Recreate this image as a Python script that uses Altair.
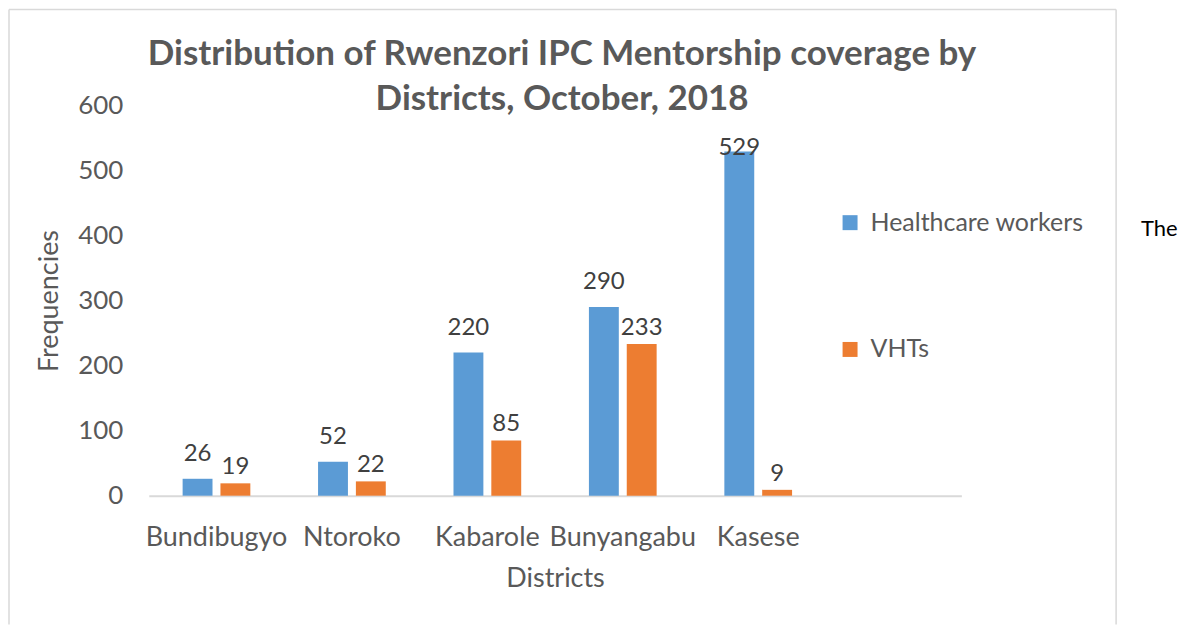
import altair as alt
import pandas as pd

categories = ["Bundibugyo", "Ntoroko", "Kabarole", "Bunyangabu", "Kasese"]
x_domain = categories + [" "]
healthcare_workers = [26, 52, 220, 290, 529]
vhts = [19, 22, 85, 233, 9]
series = ["Healthcare workers", "VHTs"]
colors = ["#5B9BD5", "#ED7D31"]
y_ticks = [0, 100, 200, 300, 400, 500, 600]

rows = []
for c, h, v in zip(categories, healthcare_workers, vhts):
    rows.append({"District": c, "Series": series[0], "Value": h})
    rows.append({"District": c, "Series": series[1], "Value": v})
df = pd.DataFrame(rows)

FONT = "Lato"
GREY = "#595959"

x_enc = alt.X("District:N", scale=alt.Scale(domain=x_domain, paddingInner=0.5, paddingOuter=0.25),
              axis=alt.Axis(title="Districts", labelAngle=0, tickSize=0, domainColor="#D9D9D9",
                            domainWidth=2, labelPadding=29, titlePadding=15,
                            labelFontSize=27, titleFontSize=27, labelColor=GREY, titleColor=GREY,
                            labelFont=FONT, titleFont=FONT, titleFontWeight="normal"))
y_enc = alt.Y("Value:Q", scale=alt.Scale(domain=[0, 600], nice=False),
              axis=alt.Axis(title="Frequencies", values=y_ticks, grid=False, domain=False, tickSize=0,
                            labelPadding=26, titlePadding=14, labelFontSize=26, titleFontSize=27,
                            labelColor=GREY, titleColor=GREY, labelFont=FONT, titleFont=FONT,
                            titleFontWeight="normal"))
xoff = alt.XOffset("Series:N", sort=series, scale=alt.Scale(domain=series, paddingInner=0.21))

base = alt.Chart(df)

bars = base.mark_bar().encode(
    x=x_enc, y=y_enc, xOffset=xoff,
    color=alt.Color("Series:N", scale=alt.Scale(domain=series, range=colors),
                    legend=alt.Legend(title=None, orient="none", legendX=690, legendY=105,
                                      symbolType="square", symbolSize=225, symbolStrokeWidth=0,
                                      labelFontSize=25, labelFont=FONT, labelColor=GREY,
                                      labelOffset=8, rowPadding=101, padding=0, labelLimit=0)),
)

# data labels: kept inside the plot area like the spreadsheet does
labels_base = base.transform_calculate(LabelY="min(datum.Value, 496)")

lab_hw = labels_base.transform_filter(alt.datum.Series == series[0]).mark_text(
    fontSize=24, font=FONT, color="#404040", baseline="middle", dy=-25
).encode(x=alt.X("District:N", scale=alt.Scale(domain=x_domain)),
         y=alt.Y("LabelY:Q"), xOffset=xoff, text="Value:Q")

lab_v = labels_base.transform_filter(alt.datum.Series == series[1]).mark_text(
    fontSize=24, font=FONT, color="#404040", baseline="middle", dy=-16
).encode(x=alt.X("District:N", scale=alt.Scale(domain=x_domain)),
         y=alt.Y("LabelY:Q"), xOffset=xoff, text="Value:Q")

one = alt.Data(values=[{"a": 1}])
bcol = "#D9D9D9"
left = alt.Chart(one).mark_rule(color=bcol, strokeWidth=1.5).encode(
    x=alt.value(-140), y=alt.value(-96), y2=alt.value(520))
right = alt.Chart(one).mark_rule(color=bcol, strokeWidth=1.5).encode(
    x=alt.value(969), y=alt.value(-96), y2=alt.value(520))
top = alt.Chart(one).mark_rule(color=bcol, strokeWidth=1.5).encode(
    x=alt.value(-140), x2=alt.value(969), y=alt.value(-96))
the_text = alt.Chart(one).mark_text(fontSize=22, font=FONT, color="#000000", align="left",
                                    baseline="middle").encode(
    x=alt.value(994), y=alt.value(124), text=alt.value("The"))

chart = alt.layer(left, right, top, bars, lab_hw, lab_v, the_text).properties(
    width=814, height=391, padding=0, background="white",
    title=alt.Title(["Distribution of Rwenzori IPC Mentorship coverage by", "Districts, October, 2018"],
                    fontSize=35, font=FONT, fontWeight="bold", color=GREY, anchor="middle",
                    lineHeight=45, offset=0, dy=108, dx=7),
).configure_view(strokeWidth=0, stroke="transparent")

chart.save("out.html", embed_options={"renderer": "svg", "actions": False})
